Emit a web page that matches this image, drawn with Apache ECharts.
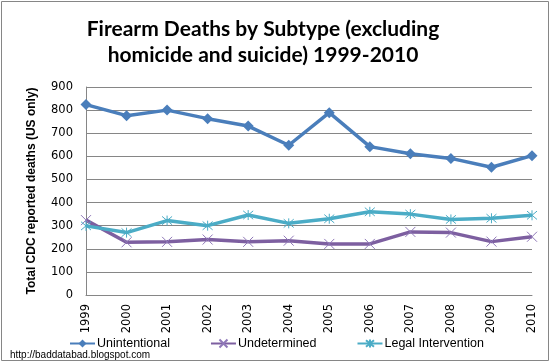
<!DOCTYPE html>
<html><head><meta charset="utf-8">
<script src="https://cdn.jsdelivr.net/npm/echarts@6/dist/echarts.min.js"></script>
<style>html,body{margin:0;padding:0;background:#fff}#c{width:552px;height:364px}</style>
</head><body><div id="c"></div>
<script>
const years = ['1999','2000','2001','2002','2003','2004','2005','2006','2007','2008','2009','2010'];
const unintentional = [824, 776, 800, 763, 731, 648, 789, 642, 611, 591, 553, 603];
const undetermined = [324, 228, 230, 240, 230, 235, 221, 221, 273, 270, 231, 252];
const legalIntervention = [299, 270, 322, 300, 346, 310, 330, 360, 350, 327, 332, 345];
const yTicks = [0, 100, 200, 300, 400, 500, 600, 700, 800, 900];

const xSym = 'path://M0,0L10,10M10,0L0,10';
const starSym = 'path://M0,0L10,10M10,0L0,10M5,-1L5,11';

const chart = echarts.init(document.getElementById('c'), null, {renderer: 'canvas'});
chart.setOption({
  animation: false,
  backgroundColor: '#fff',
  title: {
    text: 'Firearm Deaths by Subtype (excluding\nhomicide and suicide) 1999-2010',
    left: 258, top: 11, textAlign: 'center',
    textStyle: {fontFamily: 'Lato', fontWeight: 'bold', fontSize: 21, lineHeight: 26, color: '#000'}
  },
  grid: {left: 86, right: 20, top: 87, bottom: 69, containLabel: false},
  xAxis: {
    type: 'category', data: years, boundaryGap: false,
    axisLine: {lineStyle: {color: '#868686', width: 1}},
    axisTick: {show: false},
    axisLabel: {rotate: 90, fontFamily: 'DejaVu Sans', fontSize: 11.5, color: '#000', margin: 9, interval: 0}
  },
  yAxis: {
    type: 'value', min: yTicks[0], max: yTicks[yTicks.length-1], interval: 100,
    name: 'Total CDC reported deaths (US only)', nameLocation: 'middle', nameGap: 48,
    nameTextStyle: {fontFamily: 'Liberation Sans', fontWeight: 'bold', fontSize: 12, color: '#000'},
    axisLine: {show: true, lineStyle: {color: '#868686', width: 1}},
    axisTick: {show: false},
    splitLine: {lineStyle: {color: '#868686', width: 1}},
    axisLabel: {fontFamily: 'DejaVu Sans', fontSize: 11.5, color: '#000', margin: 13}
  },
  legend: {
    left: 64, top: 332, itemWidth: 25, itemHeight: 10, itemGap: 40,
    textStyle: {fontFamily: 'Liberation Sans', fontSize: 12.5, color: '#000', padding: [0,0,0,-3]},
    data: ['Unintentional', 'Undetermined', 'Legal Intervention']
  },
  series: [
    {name: 'Unintentional', type: 'line', data: unintentional, symbol: 'diamond', symbolSize: 11,
     lineStyle: {color: '#4a7ebb', width: 3.5}, itemStyle: {color: '#4a7ebb'}},
    {name: 'Undetermined', type: 'line', data: undetermined, symbol: xSym, symbolSize: 10,
     lineStyle: {color: '#7d5fa0', width: 3.5}, itemStyle: {color: 'rgba(0,0,0,0)', borderColor: '#8f78b8', borderWidth: 1}},
    {name: 'Legal Intervention', type: 'line', data: legalIntervention, symbol: starSym, symbolSize: 10,
     lineStyle: {color: '#4bacc6', width: 3.5}, itemStyle: {color: 'rgba(0,0,0,0)', borderColor: '#4bacc6', borderWidth: 1}}
  ],
  graphic: [
    {type: 'rect', shape: {x: 1.5, y: 1.5, width: 547, height: 359}, style: {fill: 'none', stroke: '#868686', lineWidth: 1}, z: -1},
    {type: 'text', left: 10, top: 350, style: {text: 'http://baddatabad.blogspot.com', font: '10px "Liberation Sans"', fill: '#000'}}
  ]
});
</script></body></html>
